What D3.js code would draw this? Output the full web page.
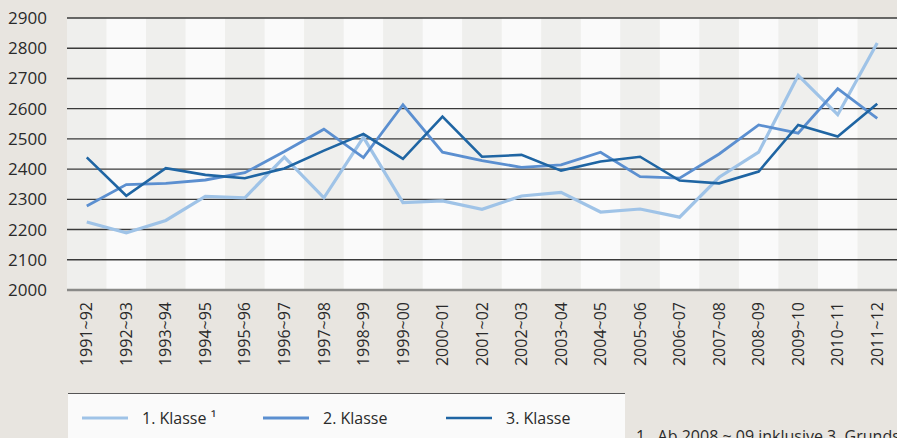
<!DOCTYPE html>
<html>
<head>
<meta charset="utf-8">
<script src="https://cdn.jsdelivr.net/npm/d3@7"></script>
<style>
  body { margin: 0; background: #e8e5e0; }
  svg { display: block; font-family: "Open Sans", sans-serif; }
</style>
</head>
<body>
<svg id="chart" width="897" height="438"></svg>
<script>
const years = ["1991~92", "1992~93", "1993~94", "1994~95", "1995~96", "1996~97",
  "1997~98", "1998~99", "1999~00", "2000~01", "2001~02", "2002~03", "2003~04",
  "2004~05", "2005~06", "2006~07", "2007~08", "2008~09", "2009~10", "2010~11", "2011~12"];

const klasse1 = [2225, 2189, 2230, 2310, 2305, 2440, 2305, 2505, 2289, 2295, 2267,
  2311, 2323, 2258, 2268, 2241, 2373, 2456, 2710, 2580, 2817];
const klasse2 = [2278, 2349, 2353, 2364, 2388, 2458, 2532, 2438, 2613, 2456, 2428,
  2406, 2414, 2456, 2375, 2370, 2450, 2546, 2519, 2666, 2568];
const klasse3 = [2439, 2312, 2403, 2381, 2370, 2402, 2461, 2516, 2434, 2574, 2441,
  2447, 2395, 2425, 2441, 2362, 2353, 2392, 2546, 2508, 2616];

const yTicks = [2000, 2100, 2200, 2300, 2400, 2500, 2600, 2700, 2800, 2900];
const seriesNames = ["1. Klasse \u00b9", "2. Klasse", "3. Klasse"];
const footnote = "1   Ab 2008 ~ 09 inklusive 3. Grundschulklasse";

const colors = ["#9fc3e7", "#5b8fd0", "#1f65a3"];
const widths = [3.2, 2.8, 2.6];

var svg = d3.select("#chart"),
  margin = { top: 18, right: 0, bottom: 148, left: 67 },
  width = +svg.attr("width") - margin.left - margin.right,
  height = +svg.attr("height") - margin.top - margin.bottom;

var x = d3.scaleBand().domain(years).range([0, width]);
var y = d3.scaleLinear().domain([2000, 2900]).range([height, 0]);

var g = svg.append("g")
  .attr("transform", "translate(" + margin.left + "," + margin.top + ")");

// alternating column stripes
g.selectAll(".band")
  .data(years)
  .enter()
  .append("rect")
  .attr("class", "band")
  .attr("x", function(d) { return x(d); })
  .attr("y", 0)
  .attr("width", x.bandwidth() + 0.5)
  .attr("height", height)
  .attr("fill", function(d, i) { return i % 2 === 0 ? "#efefed" : "#fafafa"; });

// horizontal grid
g.selectAll(".grid")
  .data(yTicks)
  .enter()
  .append("line")
  .attr("x1", 0)
  .attr("x2", width)
  .attr("y1", function(d) { return y(d); })
  .attr("y2", function(d) { return y(d); })
  .attr("stroke", function(d) { return d === 2000 ? "#8a8a88" : "#3a3a3a"; })
  .attr("stroke-width", function(d) { return d === 2000 ? 2.5 : 1.4; });

// y axis labels
var yAxis = g.append("g")
  .attr("transform", "translate(-20,0)")
  .call(d3.axisLeft(y).tickValues(yTicks).tickSize(0).tickPadding(0).tickFormat(d3.format("d")));
yAxis.select(".domain").remove();
yAxis.selectAll("text")
  .attr("font-family", "Open Sans, sans-serif")
  .attr("font-size", "17px")
  .attr("fill", "#2a2a2a");

// x axis labels (vertical)
var xAxis = g.append("g")
  .attr("transform", "translate(0," + height + ")")
  .call(d3.axisBottom(x).tickSize(0).tickPadding(0));
xAxis.select(".domain").remove();
xAxis.selectAll("text")
  .attr("font-family", "Open Sans, sans-serif")
  .attr("font-size", "16px")
  .attr("fill", "#2a2a2a")
  .attr("transform", "rotate(-90)")
  .attr("text-anchor", "end")
  .attr("x", -12)
  .attr("y", 0)
  .attr("dy", "0.35em");

// lines
var line = d3.line()
  .x(function(d, i) { return x(years[i]) + x.bandwidth() / 2; })
  .y(function(d) { return y(d); });

[klasse1, klasse2, klasse3].forEach(function(series, i) {
  g.append("path")
    .datum(series)
    .attr("fill", "none")
    .attr("stroke", colors[i])
    .attr("stroke-width", widths[i])
    .attr("stroke-linejoin", "miter")
    .attr("d", line);
});

// legend box
svg.append("line")
  .attr("x1", 68).attr("x2", 625)
  .attr("y1", 393.5).attr("y2", 393.5)
  .attr("stroke", "#555").attr("stroke-width", 1.2);
svg.append("rect")
  .attr("x", 68).attr("y", 394)
  .attr("width", 557).attr("height", 44)
  .attr("fill", "#fafafa");

var legendX = [82, 263, 446];
var legend = svg.selectAll(".legend")
  .data(seriesNames)
  .enter()
  .append("g")
  .attr("class", "legend")
  .attr("transform", function(d, i) { return "translate(" + legendX[i] + ",418)"; });

legend.append("line")
  .attr("x1", 0).attr("x2", 46)
  .attr("stroke", function(d, i) { return colors[i]; })
  .attr("stroke-width", function(d, i) { return widths[i]; });

legend.append("text")
  .attr("x", 60)
  .attr("dy", "0.35em")
  .attr("font-size", "16px")
  .attr("fill", "#2a2a2a")
  .text(function(d) { return d; });

// footnote, clipped at the bottom edge like the original
svg.append("text")
  .attr("x", 636)
  .attr("y", 442)
  .attr("font-size", "16px")
  .attr("fill", "#2a2a2a")
  .attr("xml:space", "preserve")
  .style("white-space", "pre")
  .text(footnote);
</script>
</body>
</html>
